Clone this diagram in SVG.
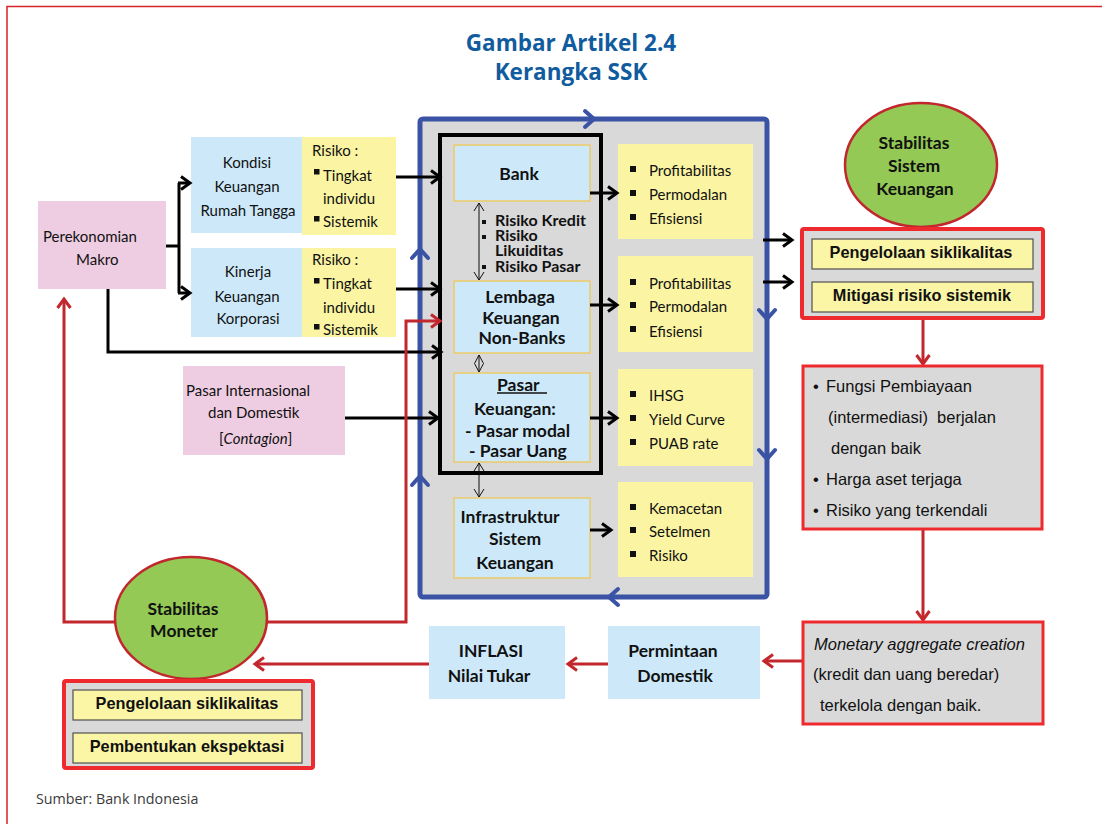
<svg xmlns="http://www.w3.org/2000/svg" width="1102" height="824" viewBox="0 0 1102 824">
  <style>
    .lato { font-family: Lato, "Noto Sans", sans-serif; fill: #111; }
    .t15 { font-size: 15px; }
    .b16 { font-size: 17.5px; font-weight: bold; }
    .risk { font-size: 16px; font-weight: bold; }
    .arial { font-family: "Liberation Sans", Arial, sans-serif; fill: #111; }
    .ab { font-size: 16.3px; font-weight: bold; }
    .ar { font-size: 16.5px; }
    .pink { fill: #eecde2; }
    .lblue { fill: #cde9f9; }
    .lblue-g { fill: #cde9f9; stroke: #f3c546; stroke-width: 1.2; }
    .yellow { fill: #fbf5a3; }
    .ybox { fill: #fbf5a6; stroke: #505050; stroke-width: 1.2; }
    .redbox { fill: #d9d9d9; stroke: #ee2a2f; stroke-width: 4; }
    .redbox3 { fill: #d9d9d9; stroke: #ee2a2f; stroke-width: 3; }
    .oval { fill: #93c954; stroke: #c1272d; stroke-width: 2.5; }
    .blk { fill: none; stroke: #000; stroke-width: 3; }
    .red { fill: none; stroke: #c1272d; stroke-width: 3; }
    .thin { fill: none; stroke: #111; stroke-width: 1; }
    .bluechev { fill: none; stroke: #3a53a4; stroke-width: 4; stroke-linecap: round; stroke-linejoin: round; }
    .sq { fill: #111; }
  </style>
  <defs>
    <marker id="ahBlack" markerWidth="14" markerHeight="16" refX="11" refY="8" orient="auto" markerUnits="userSpaceOnUse">
      <path d="M2,1.5 L11,8 L2,14.5" fill="none" stroke="#000" stroke-width="3"/>
    </marker>
    <marker id="ahRed" markerWidth="14" markerHeight="16" refX="11" refY="8" orient="auto" markerUnits="userSpaceOnUse">
      <path d="M2,1.5 L11,8 L2,14.5" fill="none" stroke="#c1272d" stroke-width="3"/>
    </marker>
    <marker id="ahThin" markerWidth="12" markerHeight="12" refX="9" refY="6" orient="auto-start-reverse" markerUnits="userSpaceOnUse">
      <path d="M1,1 L9,6 L1,11" fill="none" stroke="#111" stroke-width="1"/>
    </marker>
  </defs>

  <!-- page frame -->
  <path d="M7,824 L7,6.5 L1102,6.5" fill="none" stroke="#d8232a" stroke-width="1.5"/>

  <!-- heading -->
  <g id="title" font-family="'Open Sans', 'Noto Sans', sans-serif" font-weight="bold" font-size="22.5" fill="#115c9e" text-anchor="middle">
    <text x="571" y="51">Gambar Artikel 2.4</text>
    <text x="571" y="80">Kerangka SSK</text>
  </g>

  <!-- financial system frame (blue) -->
  <g id="financial-system">
    <rect x="420" y="119" width="347" height="478" rx="3" fill="#d9d9d9" stroke="#3a53a4" stroke-width="5"/>
    <path class="bluechev" d="M585,111 L594,119 L585,127"/>
    <path class="bluechev" d="M759,310 L767,319 L775,310"/>
    <path class="bluechev" d="M759,450 L767,459 L775,450"/>
    <path class="bluechev" d="M618,589 L609,597 L618,605"/>
    <path class="bluechev" d="M412,258 L420,249 L428,258"/>
    <path class="bluechev" d="M412,485 L420,476 L428,485"/>
    <rect x="440" y="135" width="161" height="338" fill="none" stroke="#000" stroke-width="4"/>
  </g>

  <!-- left side inputs -->
  <g id="perekonomian-makro">
    <rect class="pink" x="38" y="201" width="128" height="88"/>
    <text class="lato t15" x="43" y="242">Perekonomian</text>
    <text class="lato t15" x="76" y="265">Makro</text>
  </g>

  <g id="rumah-tangga">
    <rect class="lblue" x="191" y="137" width="111" height="96"/>
    <g class="lato t15" text-anchor="middle">
      <text x="247" y="168">Kondisi</text>
      <text x="247" y="192">Keuangan</text>
      <text x="248" y="216">Rumah Tangga</text>
    </g>
    <rect class="yellow" x="302" y="137" width="94" height="98"/>
    <text class="lato t15" x="312" y="156">Risiko :</text>
    <rect class="sq" x="314" y="169" width="5.5" height="5.5"/>
    <text class="lato t15" x="323" y="181">Tingkat</text>
    <text class="lato t15" x="323" y="204">individu</text>
    <rect class="sq" x="314" y="216" width="5.5" height="5.5"/>
    <text class="lato t15" x="323" y="227">Sistemik</text>
  </g>

  <g id="korporasi">
    <rect class="lblue" x="191" y="248" width="111" height="89"/>
    <g class="lato t15" text-anchor="middle">
      <text x="248" y="277">Kinerja</text>
      <text x="247" y="302">Keuangan</text>
      <text x="248" y="324">Korporasi</text>
    </g>
    <rect class="yellow" x="302" y="248" width="94" height="89"/>
    <text class="lato t15" x="312" y="265">Risiko :</text>
    <rect class="sq" x="314" y="278" width="5.5" height="5.5"/>
    <text class="lato t15" x="323" y="289">Tingkat</text>
    <text class="lato t15" x="323" y="313">individu</text>
    <rect class="sq" x="314" y="324" width="5.5" height="5.5"/>
    <text class="lato t15" x="323" y="335">Sistemik</text>
  </g>

  <g id="pasar-internasional">
    <rect class="pink" x="183" y="366" width="162" height="89"/>
    <text class="lato t15" x="186" y="396">Pasar Internasional</text>
    <text class="lato t15" x="208" y="418">dan Domestik</text>
    <text class="lato t15" x="219" y="444">[<tspan font-style="italic">Contagion</tspan>]</text>
  </g>

  <!-- institutions inside the system -->
  <g id="bank">
    <rect class="lblue-g" x="454" y="145" width="136" height="56"/>
    <text class="lato b16" x="519" y="180" text-anchor="middle">Bank</text>
  </g>

  <g id="risiko-list">
    <rect class="sq" x="482" y="220" width="4" height="4"/>
    <rect class="sq" x="482" y="235" width="4" height="4"/>
    <rect class="sq" x="482" y="265" width="4" height="4"/>
    <g class="lato risk">
      <text x="495" y="226">Risiko Kredit</text>
      <text x="495" y="241">Risiko</text>
      <text x="495" y="256">Likuiditas</text>
      <text x="495" y="272">Risiko Pasar</text>
    </g>
  </g>

  <g id="lembaga-keuangan">
    <rect class="lblue-g" x="454" y="281" width="136" height="72"/>
    <g class="lato b16" text-anchor="middle">
      <text x="520" y="303">Lembaga</text>
      <text x="521" y="324">Keuangan</text>
      <text x="522" y="344">Non-Banks</text>
    </g>
  </g>

  <g id="pasar-keuangan">
    <rect class="lblue-g" x="454" y="373" width="136" height="89"/>
    <g class="lato b16" xml:space="preserve">
      <text x="497" y="391">Pasar</text>
      <text x="474" y="415">Keuangan:</text>
      <text x="465" y="437">- Pasar  modal</text>
      <text x="469" y="457">- Pasar  Uang</text>
    </g>
    <line x1="497" y1="393" x2="547" y2="393" stroke="#111" stroke-width="1.3"/>
  </g>

  <g id="infrastruktur">
    <rect class="lblue-g" x="454" y="498" width="136" height="80"/>
    <g class="lato b16" text-anchor="middle">
      <text x="510" y="523">Infrastruktur</text>
      <text x="515" y="545">Sistem</text>
      <text x="515" y="569">Keuangan</text>
    </g>
  </g>

  <!-- indicator boxes -->
  <g id="ind-bank">
    <rect class="yellow" x="618" y="144" width="135" height="95"/>
    <rect class="sq" x="630" y="166" width="6" height="6"/>
    <rect class="sq" x="630" y="190" width="6" height="6"/>
    <rect class="sq" x="630" y="214" width="6" height="6"/>
    <text class="lato t15" x="649" y="176">Profitabilitas</text>
    <text class="lato t15" x="649" y="200">Permodalan</text>
    <text class="lato t15" x="649" y="224">Efisiensi</text>
  </g>
  <g id="ind-nonbank">
    <rect class="yellow" x="618" y="256" width="135" height="96"/>
    <rect class="sq" x="630" y="279" width="6" height="6"/>
    <rect class="sq" x="630" y="302" width="6" height="6"/>
    <rect class="sq" x="630" y="326" width="6" height="6"/>
    <text class="lato t15" x="649" y="289">Profitabilitas</text>
    <text class="lato t15" x="649" y="312">Permodalan</text>
    <text class="lato t15" x="649" y="337">Efisiensi</text>
  </g>
  <g id="ind-pasar">
    <rect class="yellow" x="618" y="369" width="135" height="97"/>
    <rect class="sq" x="630" y="391" width="6" height="6"/>
    <rect class="sq" x="630" y="415" width="6" height="6"/>
    <rect class="sq" x="630" y="439" width="6" height="6"/>
    <text class="lato t15" x="649" y="401">IHSG</text>
    <text class="lato t15" x="649" y="425">Yield Curve</text>
    <text class="lato t15" x="649" y="449">PUAB rate</text>
  </g>
  <g id="ind-infra">
    <rect class="yellow" x="618" y="482" width="135" height="95"/>
    <rect class="sq" x="630" y="504" width="6" height="6"/>
    <rect class="sq" x="630" y="527" width="6" height="6"/>
    <rect class="sq" x="630" y="551" width="6" height="6"/>
    <text class="lato t15" x="649" y="514">Kemacetan</text>
    <text class="lato t15" x="649" y="537">Setelmen</text>
    <text class="lato t15" x="649" y="561">Risiko</text>
  </g>

  <!-- connectors -->
  <g id="connectors">
    <!-- macro economy fork -->
    <path class="blk" d="M166,246 L179,246"/>
    <path class="blk" d="M179,183 L179,293"/>
    <path class="blk" d="M178,183 L190,183" marker-end="url(#ahBlack)"/>
    <path class="blk" d="M178,293 L190,293" marker-end="url(#ahBlack)"/>
    <!-- risks into the system -->
    <path class="blk" d="M396,177 L440,177" marker-end="url(#ahBlack)"/>
    <path class="blk" d="M396,289 L440,289" marker-end="url(#ahBlack)"/>
    <path class="blk" d="M108,289 L108,352 L441,352" marker-end="url(#ahBlack)"/>
    <path class="blk" d="M345,418 L438,418" marker-end="url(#ahBlack)"/>
    <!-- institutions to indicators -->
    <path class="blk" d="M590,193 L617,193" marker-end="url(#ahBlack)"/>
    <path class="blk" d="M590,305 L617,305" marker-end="url(#ahBlack)"/>
    <path class="blk" d="M590,418 L617,418" marker-end="url(#ahBlack)"/>
    <path class="blk" d="M590,530 L611,530" marker-end="url(#ahBlack)"/>
    <!-- indicators to SSK policy -->
    <path class="blk" d="M763,240 L792,240" marker-end="url(#ahBlack)"/>
    <path class="blk" d="M763,282 L792,282" marker-end="url(#ahBlack)"/>
    <!-- interlinkages -->
    <path class="thin" d="M479,203 L479,280" marker-start="url(#ahThin)" marker-end="url(#ahThin)"/>
    <path class="thin" d="M479,463 L479,497" marker-start="url(#ahThin)" marker-end="url(#ahThin)"/>
    <path class="thin" d="M479,355 L474.5,363.5 L479,372 L483.5,363.5 Z M479,355 L479,372"/>
    <!-- transmission chain (red) -->
    <path class="red" d="M923,318 L923,364" marker-end="url(#ahRed)"/>
    <path class="red" d="M923,529 L923,620" marker-end="url(#ahRed)"/>
    <path class="red" d="M803,661 L764,661" marker-end="url(#ahRed)"/>
    <path class="red" d="M608,664 L568,664" marker-end="url(#ahRed)"/>
    <path class="red" d="M429,664 L255,664" marker-end="url(#ahRed)"/>
    <path class="red" d="M120,622 L64,622 L64,299" marker-end="url(#ahRed)"/>
    <path class="red" d="M262,622 L406,622 L406,321 L440,321" marker-end="url(#ahRed)"/>
  </g>

  <!-- SSK outcome -->
  <g id="stabilitas-sistem-keuangan">
    <ellipse class="oval" cx="921" cy="165" rx="76" ry="62"/>
    <g class="lato b16" text-anchor="middle">
      <text x="914" y="149">Stabilitas</text>
      <text x="914" y="172">Sistem</text>
      <text x="915" y="195">Keuangan</text>
    </g>
  </g>

  <g id="kebijakan-ssk">
    <rect class="redbox" x="802" y="229" width="241" height="89" rx="2"/>
    <rect class="ybox" x="812" y="239" width="221" height="30"/>
    <rect class="ybox" x="812" y="282" width="221" height="30"/>
    <text class="arial ab" x="921" y="258" text-anchor="middle">Pengelolaan siklikalitas</text>
    <text class="arial ab" x="922" y="301" text-anchor="middle">Mitigasi risiko sistemik</text>
  </g>

  <g id="fungsi-pembiayaan">
    <rect class="redbox3" x="803" y="366" width="239" height="163"/>
    <g class="arial ar">
      <text x="813" y="392">•</text>
      <text x="826" y="392">Fungsi Pembiayaan</text>
      <text x="828" y="423" xml:space="preserve">(intermediasi)  berjalan</text>
      <text x="831" y="454">dengan baik</text>
      <text x="813" y="485">•</text>
      <text x="826" y="485">Harga aset terjaga</text>
      <text x="813" y="516">•</text>
      <text x="826" y="516">Risiko yang terkendali</text>
    </g>
  </g>

  <g id="monetary-aggregate">
    <rect class="redbox3" x="803" y="622" width="240" height="102"/>
    <g class="arial ar">
      <text x="814" y="650" font-style="italic">Monetary aggregate creation</text>
      <text x="813" y="680">(kredit dan uang beredar)</text>
      <text x="820" y="711">terkelola dengan baik.</text>
    </g>
  </g>

  <g id="permintaan-domestik">
    <rect class="lblue" x="608" y="626" width="152" height="73"/>
    <g class="lato b16" text-anchor="middle">
      <text x="673" y="657">Permintaan</text>
      <text x="675" y="682">Domestik</text>
    </g>
  </g>

  <g id="inflasi">
    <rect class="lblue" x="429" y="626" width="136" height="73"/>
    <g class="lato b16" text-anchor="middle">
      <text x="491" y="657">INFLASI</text>
      <text x="489" y="682">Nilai Tukar</text>
    </g>
  </g>

  <g id="stabilitas-moneter">
    <ellipse class="oval" cx="191" cy="618" rx="76" ry="61"/>
    <g class="lato b16" text-anchor="middle">
      <text x="183" y="615">Stabilitas</text>
      <text x="184" y="637">Moneter</text>
    </g>
  </g>

  <g id="kebijakan-moneter">
    <rect class="redbox" x="64" y="681" width="249" height="87" rx="2"/>
    <rect class="ybox" x="73" y="690" width="229" height="30"/>
    <rect class="ybox" x="73" y="733" width="229" height="30"/>
    <text class="arial ab" x="187" y="709" text-anchor="middle">Pengelolaan siklikalitas</text>
    <text class="arial ab" x="187" y="752" text-anchor="middle">Pembentukan ekspektasi</text>
  </g>

  <!-- source note -->
  <text x="36" y="804" font-family="'Open Sans', 'Noto Sans', sans-serif" font-size="14.3" fill="#3a3a3a">Sumber: Bank Indonesia</text>
</svg>
